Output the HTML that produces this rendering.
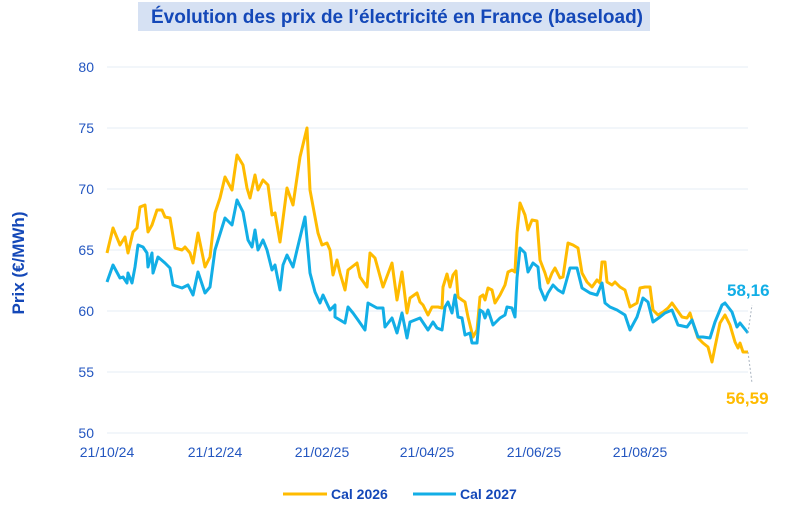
<!DOCTYPE html>
<html><head><meta charset="utf-8"><style>
body{margin:0;background:#fff;}
svg{display:block;font-family:"Liberation Sans",Arial,sans-serif;}
</style></head><body>
<svg width="800" height="522" viewBox="0 0 800 522">
<rect x="138" y="2" width="512" height="29" fill="#d6e1f3"/>
<text x="397" y="23" text-anchor="middle" font-size="19" font-weight="bold" fill="#1448b8">Évolution des prix de l’électricité en France (baseload)</text>
<g stroke="#e6ecf5" stroke-width="1">
<line x1="107" y1="67" x2="748" y2="67"/><line x1="107" y1="128" x2="748" y2="128"/>
<line x1="107" y1="189" x2="748" y2="189"/><line x1="107" y1="250" x2="748" y2="250"/>
<line x1="107" y1="311" x2="748" y2="311"/><line x1="107" y1="372" x2="748" y2="372"/>
<line x1="107" y1="433" x2="748" y2="433"/>
</g>
<g font-size="14" fill="#2356c0" text-anchor="end">
<text x="94" y="72">80</text><text x="94" y="133">75</text><text x="94" y="194">70</text>
<text x="94" y="255">65</text><text x="94" y="316">60</text><text x="94" y="377">55</text><text x="94" y="438">50</text>
</g>
<g font-size="14" fill="#2356c0" text-anchor="middle">
<text x="107" y="457">21/10/24</text><text x="215" y="457">21/12/24</text><text x="322" y="457">21/02/25</text>
<text x="427" y="457">21/04/25</text><text x="534" y="457">21/06/25</text><text x="640" y="457">21/08/25</text>
</g>
<text transform="translate(24,263) rotate(-90)" text-anchor="middle" font-size="17" font-weight="bold" fill="#1448b8">Prix (€/MWh)</text>
<g fill="none" stroke-width="3" stroke-linejoin="round">
<polyline stroke="#ffbb00" points="107,253 113,228 120,245 125,237 128,253 133,232 137,228 140,207 145,205 148,232 152,225 157,210 162,210 165,217 170,218 175,248 182,250 185,247 190,253 193,263 198,233 205,267 210,257 215,213 220,198 225,177 232,190 237,155 243,165 247,188 250,198 255,175 258,190 263,180 268,185 272,215 275,213 280,242 287,188 293,205 300,157 307,128 310,190 318,233 322,245 327,243 330,250 333,275 337,260 340,273 345,290 348,270 357,263 360,277 367,287 370,253 375,258 383,287 392,263 397,300 402,272 407,313 410,298 417,293 420,302 423,305 428,315 432,307 438,307 442,308 443,287 447,274 450,287 453,275 456,271 458,297 462,300 465,302 468,317 473,337 477,330 480,297 483,295 485,300 488,288 492,290 495,303 500,295 505,285 508,272 512,270 515,272 517,233 520,203 525,215 528,230 532,220 537,221 540,260 545,273 548,283 552,273 555,268 560,278 563,277 568,243 573,245 578,248 582,273 587,282 592,287 597,280 600,283 602,262 605,262 607,282 612,285 615,282 620,287 625,290 630,307 637,303 640,288 645,287 650,287 653,310 658,315 663,312 668,308 672,303 677,310 682,317 687,318 690,313 693,323 698,338 703,343 708,347 712,362 715,347 720,323 725,315 730,325 735,342 738,348 740,343 743,352 748,352"/>
<polyline stroke="#12aee6" points="107,282 113,265 120,278 123,277 127,283 128,273 132,283 135,267 138,245 143,247 147,253 148,267 152,253 153,273 158,257 165,263 170,268 173,285 182,288 188,285 193,295 198,272 205,293 210,287 215,250 225,218 232,225 237,200 243,212 248,240 252,247 255,230 258,250 263,240 267,250 272,270 275,265 280,290 283,265 287,255 293,267 297,250 305,217 310,273 315,292 320,303 323,295 330,310 335,305 335,317 345,323 348,307 353,313 358,320 365,330 368,303 377,308 383,308 385,327 392,318 397,333 402,313 407,338 410,322 420,318 428,330 433,322 437,328 442,330 445,307 448,302 452,313 455,295 458,317 462,318 465,335 470,333 472,343 477,343 480,310 483,312 485,318 488,310 493,325 500,318 505,315 507,307 512,308 515,317 517,278 520,248 525,253 528,272 533,263 538,267 540,288 545,300 548,293 553,285 558,290 563,293 570,268 577,268 582,288 590,293 597,295 602,283 605,303 610,307 617,310 625,315 630,330 637,317 643,298 648,302 653,322 660,317 665,313 672,310 678,325 687,327 692,320 698,337 703,337 710,338 715,322 722,305 725,303 732,312 737,327 740,323 748,333"/>
</g>
<g stroke="#aab4c0" stroke-width="1" stroke-dasharray="2,2">
<line x1="748" y1="333" x2="752" y2="305"/><line x1="748" y1="352" x2="752" y2="383"/>
</g>
<text x="727" y="296" font-size="17" font-weight="bold" fill="#12aee6">58,16</text>
<text x="726" y="404" font-size="17" font-weight="bold" fill="#ffbb00">56,59</text>
<line x1="283" y1="494" x2="327" y2="494" stroke="#ffbb00" stroke-width="3"/>
<text x="331" y="499" font-size="14" font-weight="bold" fill="#1448b8">Cal 2026</text>
<line x1="413" y1="494" x2="456" y2="494" stroke="#12aee6" stroke-width="3"/>
<text x="460" y="499" font-size="14" font-weight="bold" fill="#1448b8">Cal 2027</text>
</svg>
</body></html>
